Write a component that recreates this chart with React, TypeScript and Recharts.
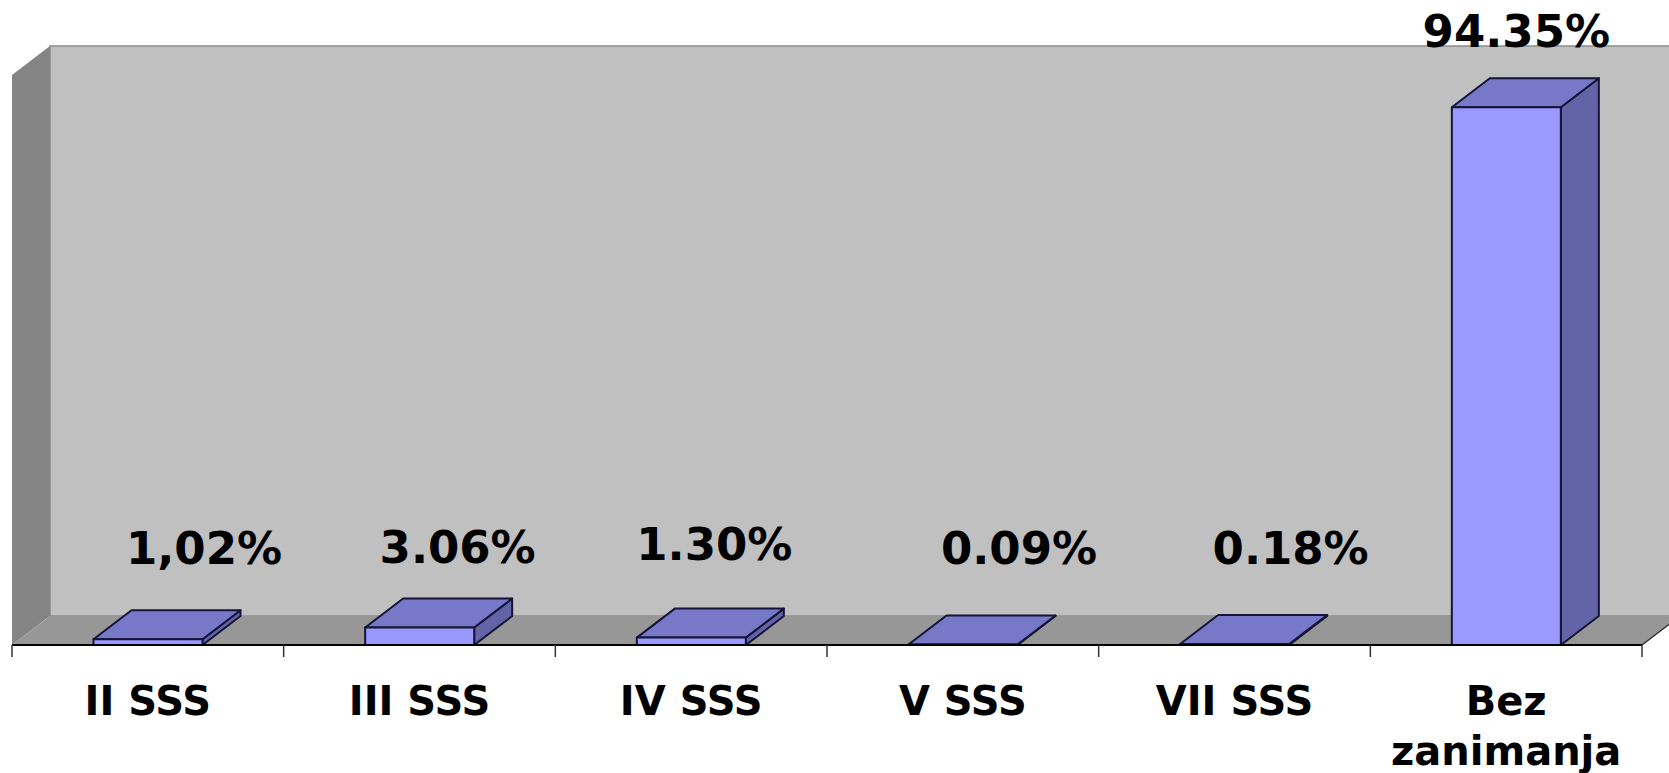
import { BarChart, Bar, XAxis, YAxis, LabelList } from 'recharts'

const categories = ['II SSS', 'III SSS', 'IV SSS', 'V SSS', 'VII SSS', 'Bez\nzanimanja']
const shares = [1.02, 3.06, 1.3, 0.09, 0.18, 94.35]
const shareLabels = ['1,02%', '3.06%', '1.30%', '0.09%', '0.18%', '94.35%']

const data = categories.map((name, i) => ({ name, value: shares[i], label: shareLabels[i] }))

// chart geometry (front plane of the fake 3d box)
const W = 1669
const H = 773
const LEFT = 12
const RIGHT = 1642
const TOP = 75
const BOTTOM = 645
const DX = 38
const DY = 29
const AXIS_H = 30
const FONT = '"DejaVu Sans", Verdana, sans-serif'

// labels were dragged by hand in the original, so each one gets a small nudge
const labelDx = [56, 38, 23, 56, 56, 10]
const labelDy = [0, -1, -4, 0, 0, 0]

const bandWidth = (RIGHT - LEFT) / categories.length

const Walls = () => (
  <svg width={W} height={H} style={{ position: 'absolute', left: 0, top: 0 }}>
    <rect x={LEFT + DX} y={TOP - DY} width={W} height={BOTTOM - TOP} fill="#c0c0c0" stroke="#8c8c8c" strokeWidth={1.5} />
    <polygon
      points={`${LEFT},${TOP} ${LEFT + DX},${TOP - DY} ${LEFT + DX},${BOTTOM - DY} ${LEFT},${BOTTOM}`}
      fill="#848484"
    />
    <polygon
      points={`${LEFT},${BOTTOM} ${LEFT + DX},${BOTTOM - DY} ${RIGHT + DX},${BOTTOM - DY} ${RIGHT},${BOTTOM}`}
      fill="#979797"
    />
    <line x1={RIGHT} y1={BOTTOM} x2={RIGHT + DX} y2={BOTTOM - DY} stroke="#333" strokeWidth={1.5} />
  </svg>
)

const Bar3D = (props: any) => {
  const { x, y, width, height } = props
  const stroke = '#141438'
  return (
    <g strokeLinejoin="round">
      <polygon
        points={`${x + width},${y} ${x + width + DX},${y - DY} ${x + width + DX},${y + height - DY} ${x + width},${y + height}`}
        fill="#6363a8"
        stroke={stroke}
        strokeWidth={2}
      />
      <polygon
        points={`${x},${y} ${x + DX},${y - DY} ${x + width + DX},${y - DY} ${x + width},${y}`}
        fill="#7878c8"
        stroke={stroke}
        strokeWidth={2}
      />
      <rect x={x} y={y} width={width} height={height} fill="#9999ff" stroke={stroke} strokeWidth={2} />
    </g>
  )
}

const renderLabel = (props: any) => {
  const { x, y, width, value, index } = props
  const big = y < BOTTOM - 100
  const cx = x + width / 2 + labelDx[index]
  const baseline = (big ? y - 60 : BOTTOM - 81) + labelDy[index]
  return (
    <text x={cx} y={baseline} textAnchor="middle" fontFamily={FONT} fontWeight="bold" fontSize={45} fill="#000">
      {value}
    </text>
  )
}

const CategoryTick = (props: any) => {
  const { x, payload, index } = props
  const lines = String(payload.value).split('\n')
  const last = index === categories.length - 1
  return (
    <g>
      <line x1={x - bandWidth / 2} y1={BOTTOM} x2={x - bandWidth / 2} y2={BOTTOM + 12} stroke="#333" strokeWidth={1.5} />
      {last && (
        <line x1={x + bandWidth / 2} y1={BOTTOM} x2={x + bandWidth / 2} y2={BOTTOM + 12} stroke="#333" strokeWidth={1.5} />
      )}
      <text x={x} y={BOTTOM + 70} textAnchor="middle" fontFamily={FONT} fontWeight="bold" fontSize={40} fill="#000">
        {lines.map((l, i) => (
          <tspan key={i} x={x} dy={i === 0 ? 0 : 50}>
            {l}
          </tspan>
        ))}
      </text>
    </g>
  )
}

export default function App() {
  return (
    <div style={{ position: 'absolute', left: 0, top: 0, width: W, height: H, background: '#fff' }}>
      <Walls />
      <div style={{ position: 'absolute', left: 0, top: 0 }}>
        <BarChart
          width={W}
          height={H}
          data={data}
          margin={{ top: TOP, left: LEFT, right: W - RIGHT, bottom: H - BOTTOM - AXIS_H }}
          barCategoryGap="30%"
        >
          <XAxis
            dataKey="name"
            height={AXIS_H}
            interval={0}
            axisLine={{ stroke: '#000', strokeWidth: 2 }}
            tickLine={false}
            tick={<CategoryTick />}
          />
          <YAxis hide domain={[0, 100]} />
          <Bar dataKey="value" shape={<Bar3D />} isAnimationActive={false}>
            <LabelList dataKey="label" content={renderLabel} />
          </Bar>
        </BarChart>
      </div>
    </div>
  )
}
